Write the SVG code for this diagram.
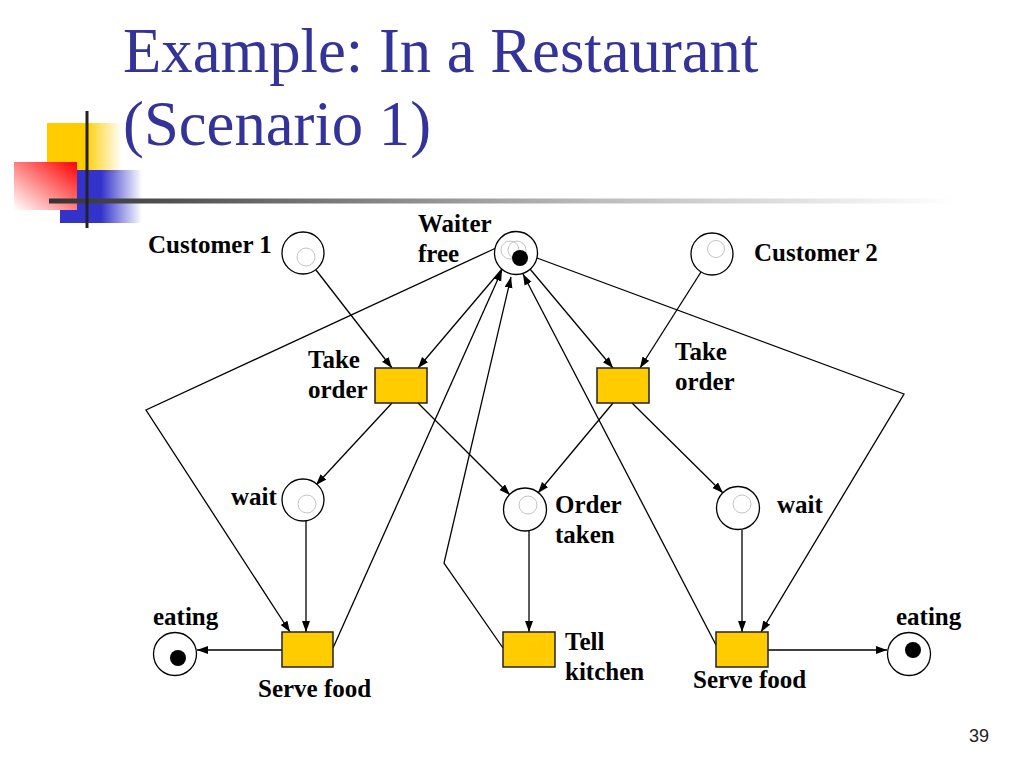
<svg xmlns="http://www.w3.org/2000/svg" width="1024" height="768" viewBox="0 0 1024 768">
<defs>
<style>
.title{font-family:"Liberation Serif","Times New Roman",serif;font-size:62.7px;fill:#333399}
.lbl{font-family:"Liberation Serif","Times New Roman",serif;font-size:25px;font-weight:bold;fill:#000}
.place{fill:#fff;stroke:#000;stroke-width:1.3}
.ghost{fill:none;stroke:#c4c4c4;stroke-width:1}
.token{fill:#000}
.trans{fill:#FFCC00;stroke:#222;stroke-width:1.5}
.arc{fill:none;stroke:#000;stroke-width:1.3}
.arr{marker-end:url(#ah)}
</style>
<marker id="ah" markerUnits="userSpaceOnUse" markerWidth="12" markerHeight="9" refX="11" refY="4" orient="auto">
<path d="M0,0 L11,4 L0,8 z" fill="#000"/>
</marker>
<linearGradient id="gy" x1="0" y1="0" x2="1" y2="0">
<stop offset="0" stop-color="#FFCC00"/>
<stop offset="0.5" stop-color="#FFCC00"/>
<stop offset="1" stop-color="#FFCC00" stop-opacity="0"/>
</linearGradient>
<linearGradient id="gb" x1="0" y1="0" x2="1" y2="0">
<stop offset="0" stop-color="#3333CC"/>
<stop offset="0.5" stop-color="#3333CC"/>
<stop offset="1" stop-color="#3333CC" stop-opacity="0"/>
</linearGradient>
<linearGradient id="gr" x1="1" y1="0" x2="0" y2="1">
<stop offset="0" stop-color="#FF0000"/>
<stop offset="0.95" stop-color="#FFF4F4"/>
<stop offset="1" stop-color="#FFFFFF"/>
</linearGradient>
<linearGradient id="gl" x1="0" y1="0" x2="1" y2="0">
<stop offset="0" stop-color="#333333"/>
<stop offset="0.6" stop-color="#bbbbbb"/>
<stop offset="1" stop-color="#ffffff"/>
</linearGradient>
</defs>
<rect width="1024" height="768" fill="#fff"/>
<g id="decoration">
<rect x="47" y="123" width="75" height="50" fill="url(#gy)"/>
<rect x="60" y="170" width="82" height="53" fill="url(#gb)"/>
<rect x="14" y="162" width="63" height="48" fill="url(#gr)"/>
<rect x="49" y="198.5" width="905" height="5" fill="url(#gl)"/>
<rect x="85.5" y="111" width="3" height="117" fill="#222"/>
</g>
<g id="title">
<text class="title" x="123" y="72">Example: In a Restaurant</text>
<text class="title" x="123" y="145">(Scenario 1)</text>
</g>
<g id="connectors">
<line class="arc arr" x1="316" y1="270" x2="392" y2="368"/>
<line class="arc arr" x1="502" y1="269" x2="418" y2="368"/>
<line class="arc arr" x1="530" y1="269" x2="613" y2="368"/>
<line class="arc arr" x1="701" y1="272" x2="640" y2="368"/>
<line class="arc arr" x1="392" y1="403" x2="316" y2="485"/>
<line class="arc arr" x1="418" y1="403" x2="510" y2="495"/>
<line class="arc arr" x1="613" y1="403" x2="538" y2="493"/>
<line class="arc arr" x1="632" y1="403" x2="723" y2="493"/>
<line class="arc arr" x1="306" y1="521" x2="306" y2="632"/>
<polyline class="arc arr" points="496,248 146,410 290,632"/>
<line class="arc arr" x1="333" y1="648" x2="502" y2="270"/>
<line class="arc arr" x1="529" y1="531" x2="529" y2="632"/>
<polyline class="arc arr" points="503,648 444,563 511,277"/>
<line class="arc arr" x1="742" y1="530" x2="742" y2="632"/>
<polyline class="arc arr" points="537,258 904,394 761,632"/>
<line class="arc arr" x1="768" y1="650" x2="887" y2="650"/>
<line class="arc arr" x1="282" y1="650" x2="197" y2="650"/>
<line class="arc arr" x1="716" y1="645" x2="523" y2="274"/>
</g>
<g id="customer1">
<circle class="place" cx="303" cy="253" r="21"/>
<circle class="ghost" cx="306" cy="257" r="9"/>
<text class="lbl" x="148" y="253">Customer 1</text>
</g>
<g id="waiter-free">
<circle class="place" cx="516" cy="253" r="21.5"/>
<circle class="ghost" cx="510" cy="250" r="9"/>
<circle class="ghost" cx="517" cy="250" r="9"/>
<circle class="token" cx="520" cy="258" r="8"/>
<text class="lbl" x="418" y="232">Waiter</text>
<text class="lbl" x="418" y="262">free</text>
</g>
<g id="customer2">
<circle class="place" cx="712" cy="254" r="21"/>
<circle class="ghost" cx="716" cy="249" r="8.5"/>
<text class="lbl" x="754" y="261">Customer 2</text>
</g>
<g id="take-order-1">
<rect class="trans" x="375" y="368" width="52" height="35"/>
<text class="lbl" x="308" y="368">Take</text>
<text class="lbl" x="308" y="398">order</text>
</g>
<g id="take-order-2">
<rect class="trans" x="597" y="368" width="52" height="35"/>
<text class="lbl" x="675" y="360">Take</text>
<text class="lbl" x="675" y="390">order</text>
</g>
<g id="wait-1">
<circle class="place" cx="303" cy="500" r="21"/>
<circle class="ghost" cx="307" cy="504" r="9"/>
<text class="lbl" x="231" y="505">wait</text>
</g>
<g id="order-taken">
<circle class="place" cx="525" cy="509.5" r="21.5"/>
<circle class="ghost" cx="528" cy="505" r="9"/>
<text class="lbl" x="555" y="513">Order</text>
<text class="lbl" x="555" y="543">taken</text>
</g>
<g id="wait-2">
<circle class="place" cx="738" cy="508" r="21.5"/>
<circle class="ghost" cx="742" cy="504" r="9"/>
<text class="lbl" x="777" y="513">wait</text>
</g>
<g id="serve-food-1">
<rect class="trans" x="282" y="632" width="51" height="35"/>
<text class="lbl" x="258" y="697">Serve food</text>
</g>
<g id="tell-kitchen">
<rect class="trans" x="503" y="632" width="52" height="35"/>
<text class="lbl" x="565" y="650">Tell</text>
<text class="lbl" x="565" y="680">kitchen</text>
</g>
<g id="serve-food-2">
<rect class="trans" x="716" y="632" width="52" height="35"/>
<text class="lbl" x="693" y="688">Serve food</text>
</g>
<g id="eating-1">
<circle class="place" cx="175" cy="654" r="21.5"/>
<circle class="token" cx="178" cy="658" r="8"/>
<text class="lbl" x="153" y="625">eating</text>
</g>
<g id="eating-2">
<circle class="place" cx="909" cy="654" r="21.5"/>
<circle class="token" cx="913" cy="650" r="8"/>
<text class="lbl" x="896" y="625">eating</text>
</g>
<g id="page-number">
<text x="969" y="742" style="font-family:'Liberation Sans',Arial,sans-serif;font-size:18px;fill:#222">39</text>
</g>
</svg>
